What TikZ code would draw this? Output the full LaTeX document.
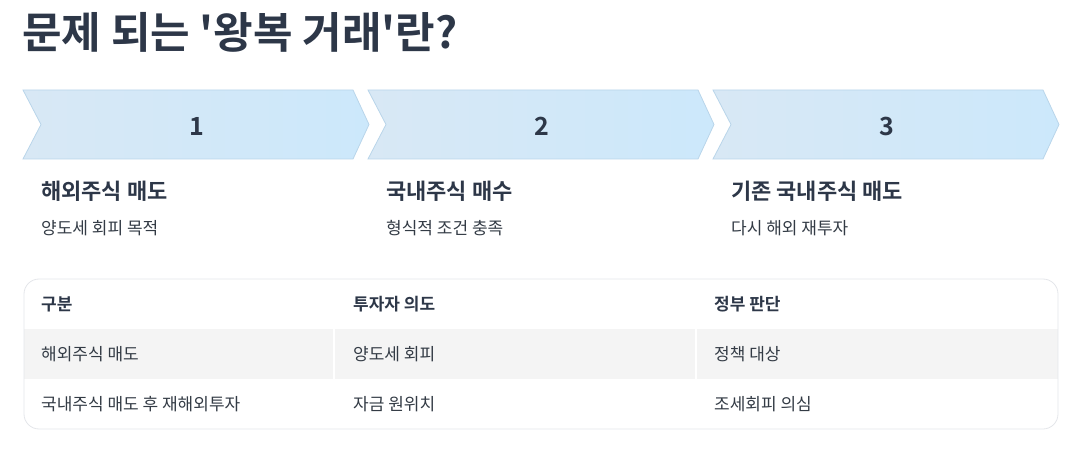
\documentclass[tikz,border=0pt]{standalone}
\usepackage{fontspec}
\setmainfont{Noto Sans CJK KR}[BoldFont={Noto Sans CJK KR Bold}]
\newfontfamily\titlefont{Noto Sans CJK KR Bold}
\definecolor{titlec}{HTML}{2D3748}
\definecolor{textc}{HTML}{333B45}
\definecolor{chevL}{HTML}{D8E8F5}
\definecolor{chevR}{HTML}{CCE8FB}
\definecolor{chevB}{HTML}{B9D5EA}
\definecolor{rowg}{HTML}{F4F4F4}
\definecolor{tblb}{HTML}{E4E6EA}
\tikzset{
  chev/.style={left color=chevL, right color=chevR, draw=chevB, line width=0.8pt},
  numtxt/.style={font=\fontsize{25}{25}\selectfont\bfseries, text=titlec},
  steptitle/.style={anchor=west, font=\fontsize{22}{22}\selectfont\bfseries, text=titlec, inner sep=0},
  stepsub/.style={anchor=west, font=\fontsize{17}{17}\selectfont, text=textc, inner sep=0},
  thead/.style={anchor=west, font=\fontsize{17}{17}\selectfont\bfseries, text=titlec, inner sep=0},
  tcell/.style={anchor=west, font=\fontsize{17}{17}\selectfont, text=textc, inner sep=0},
}
\begin{document}
\begin{tikzpicture}[x=1pt,y=-1pt]
\useasboundingbox (0,0) rectangle (1087,449);
\node[anchor=west, inner sep=0, font=\fontsize{43}{43}\titlefont, text=titlec] (title) at (22,32) {문제 되는 '왕복 거래'란?};
% chevrons
\foreach \i/\x in {1/23, 2/368, 3/713}{
  \path[chev] (\x,90) -- (\x+330,90) -- (\x+346,124.5) -- (\x+330,159) -- (\x,159) -- (\x+18,124.5) -- cycle;
  \node[numtxt] (n\i) at (\x+174,126) {\i};
}
\node[steptitle] (s1) at (41,191) {해외주식 매도};
\node[stepsub] (d1) at (41,228) {양도세 회피 목적};
\node[steptitle] (s2) at (386,191) {국내주식 매수};
\node[stepsub] (d2) at (386,228) {형식적 조건 충족};
\node[steptitle] (s3) at (731,191) {기존 국내주식 매도};
\node[stepsub] (d3) at (731,228) {다시 해외 재투자};
% table
\begin{scope}
\clip[rounded corners=15pt] (24,279) rectangle (1058,429);
\fill[white] (24,279) rectangle (1058,429);
\fill[rowg] (24,329) rectangle (1058,379);
\draw[white, line width=1.2pt] (334,329) -- (334,379);
\draw[white, line width=1.2pt] (696,329) -- (696,379);
\end{scope}
\draw[tblb, line width=0.8pt, rounded corners=15pt] (24,279) rectangle (1058,429);
\node[thead] (h1) at (41,304) {구분};
\node[thead] (h2) at (353,304) {투자자 의도};
\node[thead] (h3) at (714,304) {정부 판단};
\node[tcell] (a1) at (41,354) {해외주식 매도};
\node[tcell] (a2) at (353,354) {양도세 회피};
\node[tcell] (a3) at (714,354) {정책 대상};
\node[tcell] (b1) at (41,404) {국내주식 매도 후 재해외투자};
\node[tcell] (b2) at (353,404) {자금 원위치};
\node[tcell] (b3) at (714,404) {조세회피 의심};
\end{tikzpicture}
\end{document}
